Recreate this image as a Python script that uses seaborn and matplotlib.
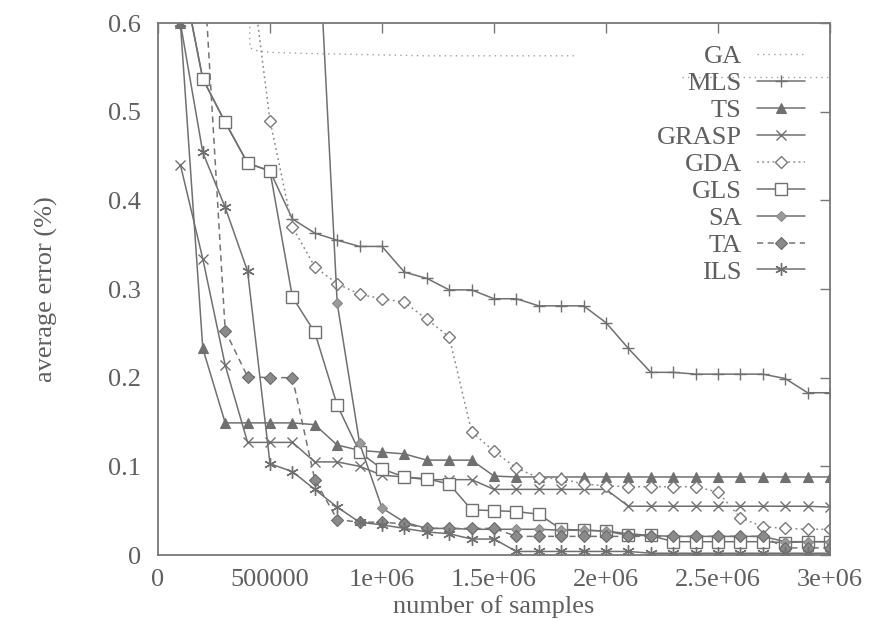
import numpy as np
import pandas as pd
import matplotlib
matplotlib.use("Agg")
import matplotlib.pyplot as plt
import seaborn as sns

# ---------------- data ----------------
samples = [100000 * i for i in range(1, 31)]
nan = np.nan

MLS = [0.665, 0.537, 0.488, 0.442, 0.433, 0.379, 0.363, 0.355, 0.348, 0.348,
       0.319, 0.312, 0.299, 0.299, 0.289, 0.289, 0.281, 0.281, 0.281, 0.262,
       0.233, 0.206, 0.206, 0.204, 0.204, 0.204, 0.204, 0.199, 0.183, 0.183]
TS = [0.600, 0.233, 0.149, 0.149, 0.149, 0.149, 0.147, 0.124, 0.118, 0.116,
      0.114, 0.107, 0.107, 0.107, 0.089, 0.088, 0.088, 0.088, 0.088, 0.088,
      0.088, 0.088, 0.088, 0.088, 0.088, 0.088, 0.088, 0.088, 0.088, 0.088]
GRASP = [0.440, 0.334, 0.214, 0.127, 0.127, 0.127, 0.105, 0.105, 0.100, 0.090,
         0.088, 0.085, 0.085, 0.085, 0.074, 0.074, 0.074, 0.074, 0.074, 0.074,
         0.055, 0.055, 0.055, 0.055, 0.055, 0.055, 0.055, 0.055, 0.055, 0.054]
GDA = [nan, nan, nan, 0.690, 0.490, 0.370, 0.325, 0.306, 0.294, 0.289,
       0.285, 0.266, 0.246, 0.139, 0.117, 0.098, 0.087, 0.086, 0.080, 0.078,
       0.077, 0.077, 0.077, 0.077, 0.071, 0.042, 0.032, 0.030, 0.029, 0.029]
GLS = [0.665, 0.537, 0.488, 0.442, 0.433, 0.291, 0.251, 0.169, 0.116, 0.097,
       0.088, 0.086, 0.080, 0.051, 0.050, 0.049, 0.046, 0.029, 0.028, 0.027,
       0.022, 0.022, 0.015, 0.015, 0.015, 0.015, 0.015, 0.014, 0.015, 0.015]
SA = [nan, nan, nan, nan, nan, nan, 0.780, 0.284, 0.126, 0.053,
      0.037, 0.030, 0.030, 0.029, 0.029, 0.029, 0.029, 0.028, 0.028, 0.027,
      0.024, 0.022, 0.021, 0.021, 0.021, 0.021, 0.021, 0.015, 0.015, 0.015]
TA = [nan, 0.680, 0.253, 0.201, 0.200, 0.200, 0.085, 0.040, 0.037, 0.037,
      0.035, 0.030, 0.030, 0.030, 0.030, 0.021, 0.021, 0.021, 0.021, 0.021,
      0.021, 0.021, 0.021, 0.021, 0.021, 0.021, 0.021, 0.008, 0.008, 0.008]
ILS = [0.600, 0.454, 0.392, 0.320, 0.103, 0.094, 0.074, 0.054, 0.037, 0.034,
       0.030, 0.026, 0.024, 0.018, 0.018, 0.004, 0.004, 0.004, 0.004, 0.004,
       0.004, 0.002, 0.002, 0.002, 0.002, 0.002, 0.002, 0.002, 0.002, 0.002]

GA_x1 = [400000, 410000, 450000, 500000, 600000, 800000, 1000000, 1200000, 1500000, 1870000]
GA_y1 = [0.950, 0.572, 0.568, 0.567, 0.566, 0.565, 0.564, 0.563, 0.563, 0.563]
GA_x2 = [2340000, 3000000]
GA_y2 = [0.539, 0.539]

series_names = ["MLS", "TS", "GRASP", "GDA", "GLS", "SA", "TA", "ILS"]
series_values = [MLS, TS, GRASP, GDA, GLS, SA, TA, ILS]

xtick_values = [0, 500000, 1000000, 1500000, 2000000, 2500000, 3000000]
xtick_labels = ["0", "500000", "1e+06", "1.5e+06", "2e+06", "2.5e+06", "3e+06"]
ytick_values = [0, 0.1, 0.2, 0.3, 0.4, 0.5, 0.6]
ytick_labels = ["0", "0.1", "0.2", "0.3", "0.4", "0.5", "0.6"]

# ---------------- style ----------------
sns.set_style("white")
plt.rcParams["font.family"] = ["Liberation Serif", "DejaVu Serif"]
TXT = "#5f5f5f"
LC = "#707070"

styles = {
    "MLS":   dict(color=LC, linestyle="-", marker="+", markersize=9, mfc=LC, mec=LC, mew=1.0),
    "TS":    dict(color=LC, linestyle="-", marker="^", markersize=7, mfc=LC, mec=LC, mew=0.8),
    "GRASP": dict(color=LC, linestyle="-", marker="x", markersize=7, mfc=LC, mec=LC, mew=1.0),
    "GDA":   dict(color="#8a8a8a", linestyle=(0, (1.2, 2.2)), marker="D", markersize=6, mfc="white", mec="#7a7a7a", mew=1.0),
    "GLS":   dict(color=LC, linestyle="-", marker="s", markersize=8, mfc="white", mec=LC, mew=1.0),
    "SA":    dict(color=LC, linestyle="-", marker="D", markersize=5, mfc="#9a9a9a", mec="#8a8a8a", mew=0.8),
    "TA":    dict(color="#747474", linestyle=(0, (4, 3)), marker="D", markersize=6, mfc="#8a8a8a", mec="#6a6a6a", mew=0.8),
    "ILS":   dict(color=LC, linestyle="-", marker=(6, 2, 0), markersize=9, mfc=LC, mec=LC, mew=1.0),
}

fig, ax = plt.subplots(figsize=(8.7, 6.21), dpi=100)
fig.subplots_adjust(left=158 / 870, right=830 / 870, bottom=1 - 555 / 621, top=1 - 23 / 621)

# GA (dotted, no markers)
ga_kw = dict(color="#a0a0a0", linestyle=(0, (1, 3)), linewidth=1.0)
sns.lineplot(x=GA_x1, y=GA_y1, ax=ax, label="GA", **ga_kw)
sns.lineplot(x=GA_x2, y=GA_y2, ax=ax, label="_nolegend_", **ga_kw)

for name, vals in zip(series_names, series_values):
    df = pd.DataFrame({"samples": samples, "err": vals}).dropna()
    s = styles[name]
    sns.lineplot(data=df, x="samples", y="err", ax=ax, label=name,
                 color=s["color"], linestyle=s["linestyle"], linewidth=1.1,
                 marker=s["marker"], markersize=s["markersize"],
                 markerfacecolor=s["mfc"], markeredgecolor=s["mec"],
                 markeredgewidth=s["mew"])

ax.set_xlim(0, 3000000)
ax.set_ylim(0, 0.6)
ax.set_xticks(xtick_values)
ax.set_xticklabels(xtick_labels)
ax.set_yticks(ytick_values)
ax.set_yticklabels(ytick_labels)
ax.tick_params(direction="in", length=7, width=1, top=True, right=True,
               color="#777777", labelcolor=TXT, labelsize=19)
ax.tick_params(axis="y", pad=12)
ax.tick_params(axis="x", pad=10)
for sp in ax.spines.values():
    sp.set_color("#777777")
    sp.set_linewidth(1.3)

ax.set_xlabel("number of samples", fontsize=19, color=TXT, labelpad=3)
ax.set_ylabel("average error (%)", fontsize=19, color=TXT, labelpad=36)

leg = ax.legend(loc="upper right", bbox_to_anchor=(805 / 870, 1 - 45 / 621),
                bbox_transform=fig.transFigure, frameon=False, markerfirst=False,
                fontsize=19, handlelength=1.8, handletextpad=0.6, labelspacing=0.13,
                borderpad=0, borderaxespad=0, numpoints=1)
for t in leg.get_texts():
    t.set_color(TXT)

fig.savefig("out.png", dpi=100, facecolor="white")
